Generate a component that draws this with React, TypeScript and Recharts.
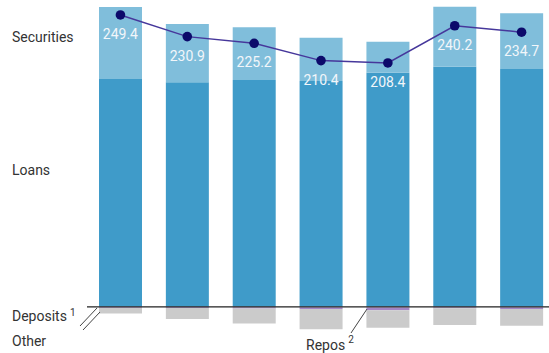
import { Bar, ComposedChart, LabelList, Line, ReferenceLine, XAxis, YAxis } from "recharts";

const periods = ["P1", "P2", "P3", "P4", "P5", "P6", "P7"];
const loans = [194.6, 191.8, 193.8, 192.9, 200.0, 205.1, 203.2];
const securities = [61.6, 49.8, 45.2, 37.1, 26.5, 51.3, 47.6];
const deposits = [-0.6, -0.5, -0.7, -0.7, -0.8, -0.6, -0.7];
const repos = [-0.4, -0.5, -0.8, -1.2, -2.2, -0.6, -1.2];
const other = [-4.7, -9.5, -12.7, -17.4, -15.0, -14.4, -14.3];
const net = [249.4, 230.9, 225.2, 210.4, 208.4, 240.2, 234.7];

const data = periods.map((p, i) => ({
  period: p,
  loans: loans[i],
  securities: securities[i],
  deposits: deposits[i],
  repos: repos[i],
  other: other[i],
  net: net[i],
}));

const font = "Roboto, 'Liberation Sans', Arial, sans-serif";

function NetLabel(props: any) {
  const { x, y, value } = props;
  return (
    <text
      x={x}
      y={y + 19}
      textAnchor="middle"
      dominantBaseline="central"
      fill="#f2f6fa"
      fontSize={14}
      fontFamily={font}
    >
      {Number(value).toFixed(1)}
    </text>
  );
}

export default function App() {
  return (
    <div
      style={{
        position: "absolute",
        left: 0,
        top: 0,
        width: 549,
        height: 353,
        overflow: "hidden",
        background: "#fff",
      }}
    >
      <ComposedChart
        width={555}
        height={353}
        data={data}
        stackOffset="sign"
        margin={{ top: 0, right: 0, left: 87, bottom: 0 }}
      >
        <XAxis dataKey="period" hide />
        <YAxis hide domain={[-39.5, 262.2]} allowDataOverflow />
        <Bar dataKey="loans" stackId="a" fill="#3f9bc9" barSize={43} isAnimationActive={false} />
        <Bar dataKey="securities" stackId="a" fill="#80bedb" barSize={43} isAnimationActive={false} />
        <Bar dataKey="deposits" stackId="a" fill="#d2b3dc" barSize={43} isAnimationActive={false} />
        <Bar dataKey="repos" stackId="a" fill="#a487c6" barSize={43} isAnimationActive={false} />
        <Bar dataKey="other" stackId="a" fill="#cbcbcb" barSize={43} isAnimationActive={false} />
        <ReferenceLine y={0} stroke="#222" strokeWidth={1.3} />
        <Line
          dataKey="net"
          stroke="#46379b"
          strokeWidth={1.5}
          dot={{ r: 4.8, fill: "#0c0a6b", stroke: "#0c0a6b", strokeWidth: 0 }}
          isAnimationActive={false}
        >
          <LabelList dataKey="net" content={NetLabel} />
        </Line>
      </ComposedChart>
      <svg
        width={549}
        height={353}
        style={{ position: "absolute", left: 0, top: 0, pointerEvents: "none" }}
        fontFamily={font}
      >
        <text x={12} y={37} fontSize={14} fill="#333" dominantBaseline="central">Securities</text>
        <text x={12} y={170} fontSize={14} fill="#333" dominantBaseline="central">Loans</text>
        <text x={12} y={316} fontSize={14} fill="#333" dominantBaseline="central">
          Deposits
          <tspan fontSize={10} dx={3} dy={-4}>1</tspan>
        </text>
        <text x={12} y={341} fontSize={14} fill="#333" dominantBaseline="central">Other</text>
        <text x={306} y={345} fontSize={14} fill="#333" dominantBaseline="central">
          Repos
          <tspan fontSize={10} dx={3} dy={-6}>2</tspan>
        </text>
        <line x1={80} y1={326} x2={97} y2={308} stroke="#444" strokeWidth={1} />
        <line x1={83} y1={330} x2={100} y2={312} stroke="#444" strokeWidth={1} />
        <line x1={367} y1={309} x2={351} y2={333} stroke="#444" strokeWidth={1} />
      </svg>
    </div>
  );
}
